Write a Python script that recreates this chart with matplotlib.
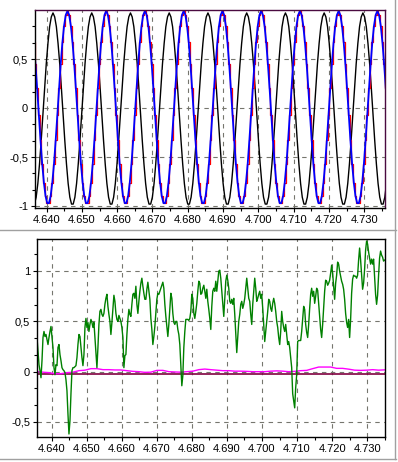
import numpy as np
import matplotlib
matplotlib.use("Agg")
import matplotlib.pyplot as plt
from matplotlib.lines import Line2D
from matplotlib.ticker import FixedLocator, FuncFormatter

plt.rcParams['font.family'] = ['Liberation Sans', 'DejaVu Sans']
plt.rcParams['axes.unicode_minus'] = False

# ---- top panel: one period of each wave (23 samples / period)
black_cycle = [0.97, 0.93, 0.83, 0.66, 0.45, 0.20, -0.07, -0.33, -0.57, -0.77, -0.91, -0.98,
               -0.98, -0.91, -0.77, -0.57, -0.33, -0.07, 0.20, 0.45, 0.66, 0.83, 0.93]
blue_cycle = [0.99, 0.95, 0.84, 0.67, 0.45, 0.20, -0.07, -0.33, -0.57, -0.76, -0.90, -0.97,
              -0.97, -0.90, -0.76, -0.57, -0.33, -0.07, 0.20, 0.45, 0.67, 0.84, 0.95]
period = 0.01098
black_first_peak = 4.6418
blue_first_peak = 4.6459
n_cycles = 10

# ---- bottom panel: green trace, one sample per screen pixel
green_t0 = 4.6358
green_dt = 0.000285
green = [
    # 4.636 - 4.661
    0.34, 0.20, 0.07, 0.01, -0.06, 0.11, 0.34, 0.40, 0.35, 0.37, 0.32, 0.27, 0.34, 0.40, 0.45,
    0.34, 0.24, 0.04, -0.03, 0.07, 0.06, 0.24, 0.27, 0.17, 0.11, 0.04, 0.02, 0.01, -0.01, -0.08,
    -0.19, -0.42, -0.62, -0.49, -0.22, 0.01, 0.04, 0.04, 0.05, 0.06, 0.14, 0.27, 0.37, 0.35, 0.24,
    0.14, 0.06, 0.17, 0.44, 0.53, 0.44, 0.49, 0.40, 0.47, 0.52, 0.49, 0.44, 0.49, 0.34, 0.20,
    0.04, 0.24, 0.47, 0.60, 0.62, 0.57, 0.55, 0.58, 0.67, 0.73, 0.77, 0.65, 0.57, 0.50, 0.37,
    0.49, 0.63, 0.76, 0.70, 0.58, 0.52, 0.50, 0.56, 0.53, 0.50, 0.44, 0.34, 0.04, 0.16,
    # 4.661 - 4.686
    0.17, 0.37, 0.52, 0.62, 0.57, 0.55, 0.67, 0.77, 0.78, 0.73, 0.85, 0.67, 0.58, 0.70, 0.80,
    0.88, 0.93, 0.85, 0.78, 0.72, 0.72, 0.82, 0.89, 0.80, 0.72, 0.53, 0.42, 0.27, 0.35, 0.45,
    0.58, 0.72, 0.78, 0.77, 0.80, 0.83, 0.86, 0.89, 0.83, 0.67, 0.55, 0.45, 0.35, 0.47, 0.62,
    0.78, 0.73, 0.58, 0.49, 0.47, 0.50, 0.50, 0.42, 0.37, 0.27, 0.07, -0.14, -0.04, 0.24, 0.40,
    0.52, 0.52, 0.52, 0.51, 0.53, 0.60, 0.77, 0.73, 0.58, 0.53, 0.60, 0.68, 0.80, 0.90, 0.88,
    0.77, 0.78, 0.83, 0.86, 0.80, 0.73, 0.82, 0.70, 0.62, 0.53, 0.42, 0.65, 0.80,
    # 4.686 - 4.711
    0.83, 0.80, 0.90, 0.80, 0.90, 1.00, 1.01, 0.93, 0.80, 0.67, 0.55, 0.73, 0.90, 0.96, 0.91,
    0.83, 0.70, 0.68, 0.72, 0.67, 0.73, 0.57, 0.37, 0.19, 0.34, 0.50, 0.57, 0.67, 0.70, 0.63,
    0.67, 0.73, 0.83, 0.93, 0.83, 0.73, 0.70, 0.57, 0.47, 0.67, 0.80, 0.93, 0.83, 0.70, 0.73,
    0.77, 0.80, 0.73, 0.77, 0.63, 0.47, 0.30, 0.40, 0.50, 0.60, 0.72, 0.70, 0.63, 0.60, 0.68,
    0.73, 0.68, 0.60, 0.50, 0.44, 0.34, 0.27, 0.40, 0.60, 0.50, 0.44, 0.40, 0.47, 0.37, 0.27,
    0.30, 0.24, 0.14, 0.04, -0.22, -0.29, -0.36, -0.16, -0.03, 0.30, 0.31, 0.31, 0.31,
    # 4.711 - 4.735
    0.40, 0.52, 0.65, 0.62, 0.47, 0.39, 0.34, 0.47, 0.63, 0.77, 0.83, 0.75, 0.80, 0.68, 0.75,
    0.83, 0.81, 0.68, 0.55, 0.42, 0.34, 0.47, 0.63, 0.80, 0.91, 0.90, 0.86, 0.88, 0.91, 0.98,
    1.06, 0.98, 0.85, 0.72, 0.88, 0.96, 1.09, 1.07, 1.00, 0.95, 0.90, 0.87, 0.82, 0.72, 0.58,
    0.49, 0.44, 0.52, 0.34, 0.52, 0.78, 0.92, 0.96, 0.95, 0.95, 0.93, 0.96, 1.11, 1.23, 1.11,
    0.97, 0.82, 0.88, 1.02, 1.21, 1.30, 1.27, 1.19, 1.13, 1.07, 1.12, 1.07, 1.12, 0.95, 0.77,
    0.67, 0.76, 0.96, 1.13, 1.20, 1.16, 1.14, 1.10, 1.11,
]

# magenta trace, one sample every 6 pixels
magenta_t0 = 4.6358
magenta_dt = 0.00171
magenta = [0.00, -0.005, -0.01, -0.02, -0.02, -0.01, -0.005, 0.01, 0.015, 0.03, 0.03, 0.02,
           0.02, 0.017, 0.017, 0.01, 0.003, 0.0, -0.007, -0.005, 0.013, 0.013, 0.0, -0.003,
           -0.005, 0.0, 0.005, 0.02, 0.026, 0.02, 0.015, 0.01, 0.01, 0.005, 0.005, 0.003,
           0.0, 0.0, 0.0, 0.005, 0.008, 0.005, 0.0, 0.003, 0.01, 0.013, 0.03, 0.046, 0.046,
           0.046, 0.033, 0.033, 0.025, 0.015, 0.013, 0.015, 0.02, 0.015, 0.018]
maroon_level = -0.022

x_ticks = [4.64, 4.65, 4.66, 4.67, 4.68, 4.69, 4.70, 4.71, 4.72, 4.73]
top_yticks = [-1, -0.5, 0, 0.5]
bottom_yticks = [-0.5, 0, 0.5, 1]

GRID = '#76766e'


def comma(v, pos):
    return ('%g' % v).replace('.', ',')


def style(ax, xlim, ylim, yticks, yminor):
    ax.set_xlim(*xlim)
    ax.set_ylim(*ylim)
    ax.xaxis.set_major_locator(FixedLocator(x_ticks))
    ax.xaxis.set_minor_locator(FixedLocator([x + 0.005 for x in x_ticks]))
    ax.xaxis.set_major_formatter(FuncFormatter(lambda v, p: '%.3f' % v))
    ax.yaxis.set_major_locator(FixedLocator(yticks))
    ax.yaxis.set_minor_locator(FixedLocator(yminor))
    ax.yaxis.set_major_formatter(FuncFormatter(comma))
    ax.grid(True, which='major', color=GRID, linestyle=(0, (4, 4)), linewidth=0.8)
    ax.tick_params(which='both', direction='out', labelsize=8, colors='black', pad=2)
    ax.tick_params(which='major', length=3, width=0.8)
    ax.tick_params(which='minor', length=2, width=0.8)
    for sp in ax.spines.values():
        sp.set_linewidth(1.0)


fig = plt.figure(figsize=(3.98, 4.62), dpi=100)

# top panel
ax1 = fig.add_axes([35 / 398, 1 - 208 / 462, 350 / 398, 198 / 462])
n = len(black_cycle) * n_cycles
dt = period / len(black_cycle)
t_black = black_first_peak - period + np.arange(n) * dt
t_blue = blue_first_peak - period + np.arange(n) * dt
y_black = np.tile(black_cycle, n_cycles)
y_blue = np.tile(blue_cycle, n_cycles)
ax1.plot(t_black, y_black, color='black', lw=1.0)
ax1.plot(t_blue, y_blue, color='#ff0000', lw=0.9, drawstyle='steps-mid')
ax1.plot(t_blue, y_blue, color='#0000ff', lw=1.3)
minor1 = [v / 6 for v in range(-6, 7) if v % 3 != 0]
style(ax1, (4.6367, 4.7359), (-1.02, 1.0), top_yticks, minor1)
ax1.spines['top'].set_color('#4a0a40')
ax1.spines['right'].set_color('#4a0a40')

# bottom panel
ax2 = fig.add_axes([37 / 398, 1 - 437 / 462, 348 / 398, 198 / 462])
t_green = green_t0 + np.arange(len(green)) * green_dt
t_mag = magenta_t0 + np.arange(len(magenta)) * magenta_dt
ax2.axhline(maroon_level, color='#800040', lw=1.2)
ax2.plot(t_mag, magenta, color='#ff00ff', lw=1.0)
ax2.plot(t_green, green, color='#008000', lw=1.0)
minor2 = [v / 6 for v in range(-6, 9) if v % 3 != 0]
style(ax2, (4.6358, 4.7351), (-0.65, 1.32), bottom_yticks, minor2)

# panel borders
fig.add_artist(Line2D([0, 396 / 398], [1 - 230 / 462] * 2, color='#a0a0a0', lw=1.0))
fig.add_artist(Line2D([0, 396 / 398], [1 - 459 / 462] * 2, color='#a0a0a0', lw=1.0))
fig.add_artist(Line2D([395 / 398] * 2, [1 - 459 / 462, 1], color='#a0a0a0', lw=1.0))

fig.savefig('out.png', dpi=100)
